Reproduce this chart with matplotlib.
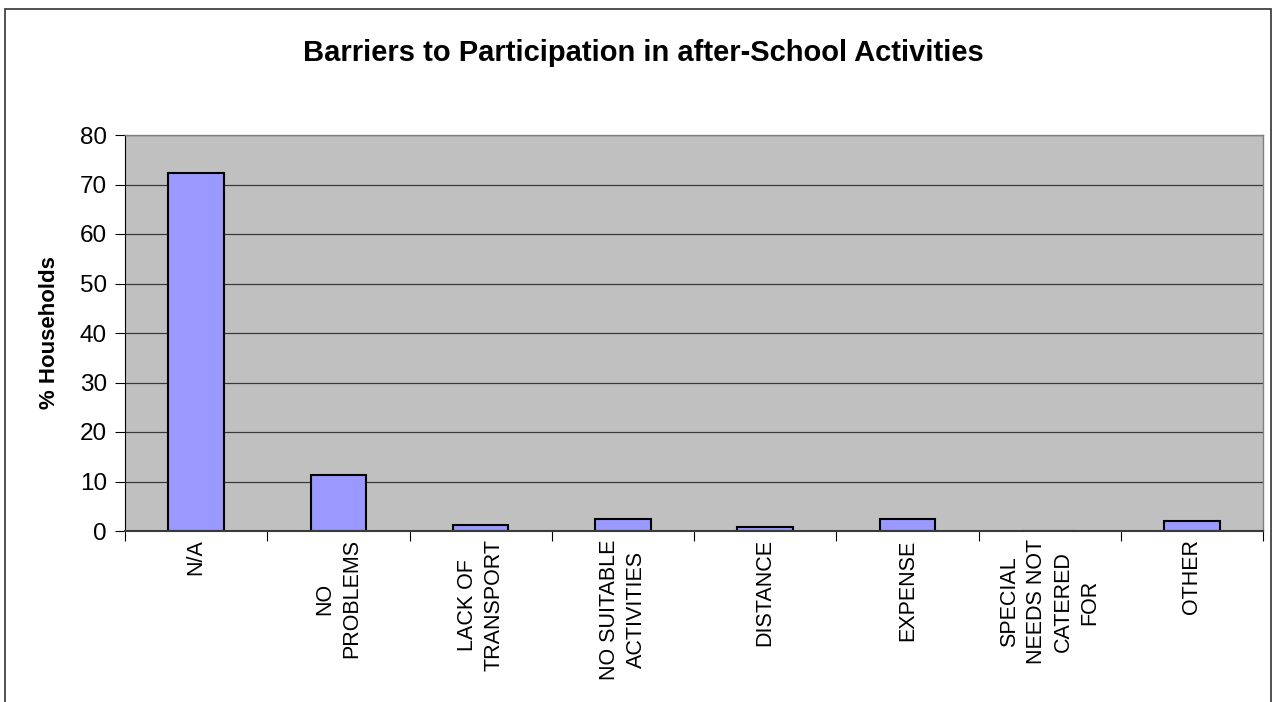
import numpy as np
import matplotlib.pyplot as plt
from matplotlib.patches import Rectangle

plt.rcParams['font.family'] = ['Liberation Sans', 'DejaVu Sans']

# data
categories = ['N/A', 'NO\nPROBLEMS', 'LACK OF\nTRANSPORT', 'NO SUITABLE\nACTIVITIES',
              'DISTANCE', 'EXPENSE', 'SPECIAL\nNEEDS NOT\nCATERED\nFOR', 'OTHER']
values = [72.3, 11.3, 1.3, 2.4, 0.9, 2.4, 0.0, 2.0]
yticks = [0, 10, 20, 30, 40, 50, 60, 70, 80]

fig = plt.figure(figsize=(12.77, 7.02), dpi=100)
ax = fig.add_axes([125/1277, 1 - 531/702, (1263 - 125)/1277, (531 - 135)/702])

x = np.arange(len(categories))
ax.set_facecolor('#C0C0C0')
ax.bar(x, values, width=0.39, color='#9999FF', edgecolor='black', linewidth=1.5, zorder=3)

ax.set_xlim(-0.5, len(categories) - 0.5)
ax.set_ylim(0, 80)
ax.set_yticks(yticks)
ax.set_yticklabels([str(t) for t in yticks], fontsize=17.5)
ax.yaxis.grid(True, color='#3a3a3a', linewidth=0.9, zorder=1)

# category labels centered, tick marks at category boundaries
ax.set_xticks(x)
ax.set_xticklabels(categories, rotation=90, fontsize=15.5, ha='center', va='top',
                   multialignment='center', linespacing=1.35)
ax.tick_params(axis='x', which='major', length=0, pad=6)
ax.set_xticks(np.arange(-0.5, len(categories), 1.0), minor=True)
ax.tick_params(axis='x', which='minor', length=7, width=0.8, direction='out')
ax.tick_params(axis='y', length=7, width=0.8, direction='out', pad=6)

for side in ['top', 'right']:
    ax.spines[side].set_color('#808080')
    ax.spines[side].set_linewidth(1)
ax.spines['left'].set_color('black')
ax.spines['bottom'].set_color('#3a3a3a')
ax.spines['bottom'].set_linewidth(1.5)
ax.spines['bottom'].set_zorder(4)

ax.set_ylabel('% Households', fontsize=16, fontweight='bold', labelpad=14)
fig.text(643/1277, 1 - 61/702, 'Barriers to Participation in after-School Activities',
         ha='center', va='baseline', fontsize=21, fontweight='bold')

# outer chart border
fig.patches.append(Rectangle((5/1277, -0.02), (1271 - 5)/1277, 1 - 9/702 + 0.02,
                             transform=fig.transFigure, fill=False,
                             edgecolor='#333333', linewidth=1.2))

fig.savefig('out.png', dpi=100)
